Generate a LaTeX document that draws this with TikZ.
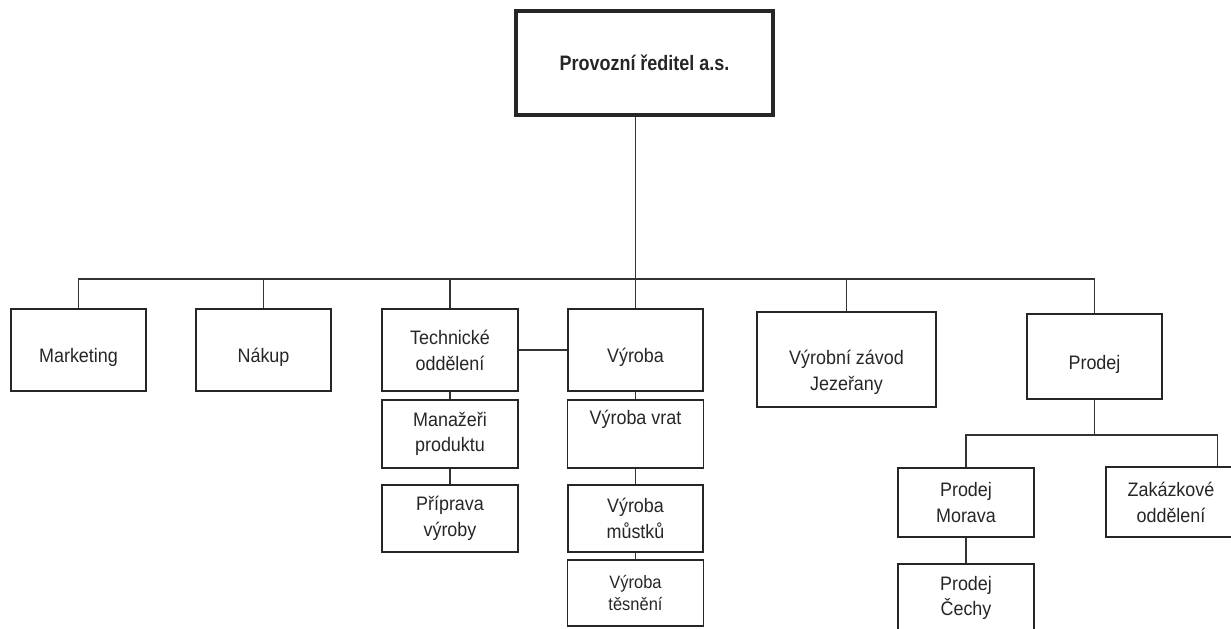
\documentclass[tikz,border=0pt]{standalone}
\usepackage{fontspec}
\setmainfont{Liberation Sans}[FakeStretch=0.92]
\newfontfamily\headfont{Liberation Sans Bold}[FakeStretch=0.86]
\usetikzlibrary{calc}

\begin{document}
\begin{tikzpicture}[x=0.02cm,y=-0.02cm,
  unit/.style={draw=black!85,line width=0.7pt,align=center,inner sep=0pt,
    text=black!85,font=\fontsize{11.1}{14.7}\selectfont},
  one/.style={text height=0.58cm,text depth=0.08cm},
  sz/.style 2 args={minimum width=#1*0.02cm,minimum height=#2*0.02cm},
  link/.style={draw=black!80,line width=0.7pt}]

% Frame of the page
\useasboundingbox (0,0) rectangle (1231,629);
\clip (0,0) rectangle (1231,629);

% Top
\node[unit,sz={257}{104},line width=1.8pt,
  font=\fontsize{11.9}{14.7}\headfont] (dir) at (644.5,63) {Provozní ředitel a.s.};

% First level
\node[unit,one,sz={135}{82}] (mkt) at (78.5,350) {Marketing};
\node[unit,one,sz={135}{82}] (nak) at (263.5,350) {Nákup};
\node[unit,sz={136}{82}] (tech) at (450,350) {Technické\\oddělení};
\node[unit,one,sz={135}{82}] (vyr) at (635.5,350) {Výroba};
\node[unit,sz={179}{95}] (zavod) at (846.5,359.5) {\rule{0pt}{0.8cm}Výrobní závod\\Jezeřany};
\node[unit,one,sz={135}{85}] (prodej) at (1094.5,356.5) {Prodej};

% Under Technické oddělení
\node[unit,sz={136}{68}] (man) at (450,434) {Manažeři\\produktu};
\node[unit,sz={136}{67}] (prip) at (450,518.5) {Příprava\\výroby};

% Under Výroba
\node[unit,sz={136}{68}] (vrat) at (635.5,434) {Výroba vrat\\ \strut};
\node[unit,sz={135}{67}] (mus) at (635.5,518.5) {Výroba\\můstků};
\node[unit,sz={136}{66},font=\fontsize{10.2}{12.6}\selectfont] (tes) at (635.5,593) {Výroba\\těsnění};

% Under Prodej
\node[unit,sz={136}{69}] (morava) at (966,502.5) {Prodej\\Morava};
\node[unit,sz={130}{70}] (zak) at (1171,502) {Zakázkové\\oddělení};
\node[unit,sz={136}{68}] (cechy) at (966,598) {Prodej\\Čechy};

% Connectors
\coordinate (bus) at (0,279);
\coordinate (sub) at (0,435);
\coordinate (zakin) at ($(zak.north east)+(-19,0)$);

\draw[link] (dir.south -| vyr.north) -- (vyr.north);
\draw[link] (mkt.north) -- (mkt.north |- bus) -- (prodej.north |- bus) -- (prodej.north);
\foreach \n in {nak,tech,zavod}
  \draw[link] (\n.north) -- (\n.north |- bus);

\draw[link] (tech) -- (vyr);
\draw[link] (tech) -- (man) -- (prip);
\draw[link] (vyr) -- (vrat) -- (mus) -- (tes);

\draw[link] (prodej.south) -- (prodej.south |- sub);
\draw[link] (morava.north) -- (morava.north |- sub) -- (zakin |- sub) -- (zakin);
\draw[link] (morava) -- (cechy);

\end{tikzpicture}
\end{document}
